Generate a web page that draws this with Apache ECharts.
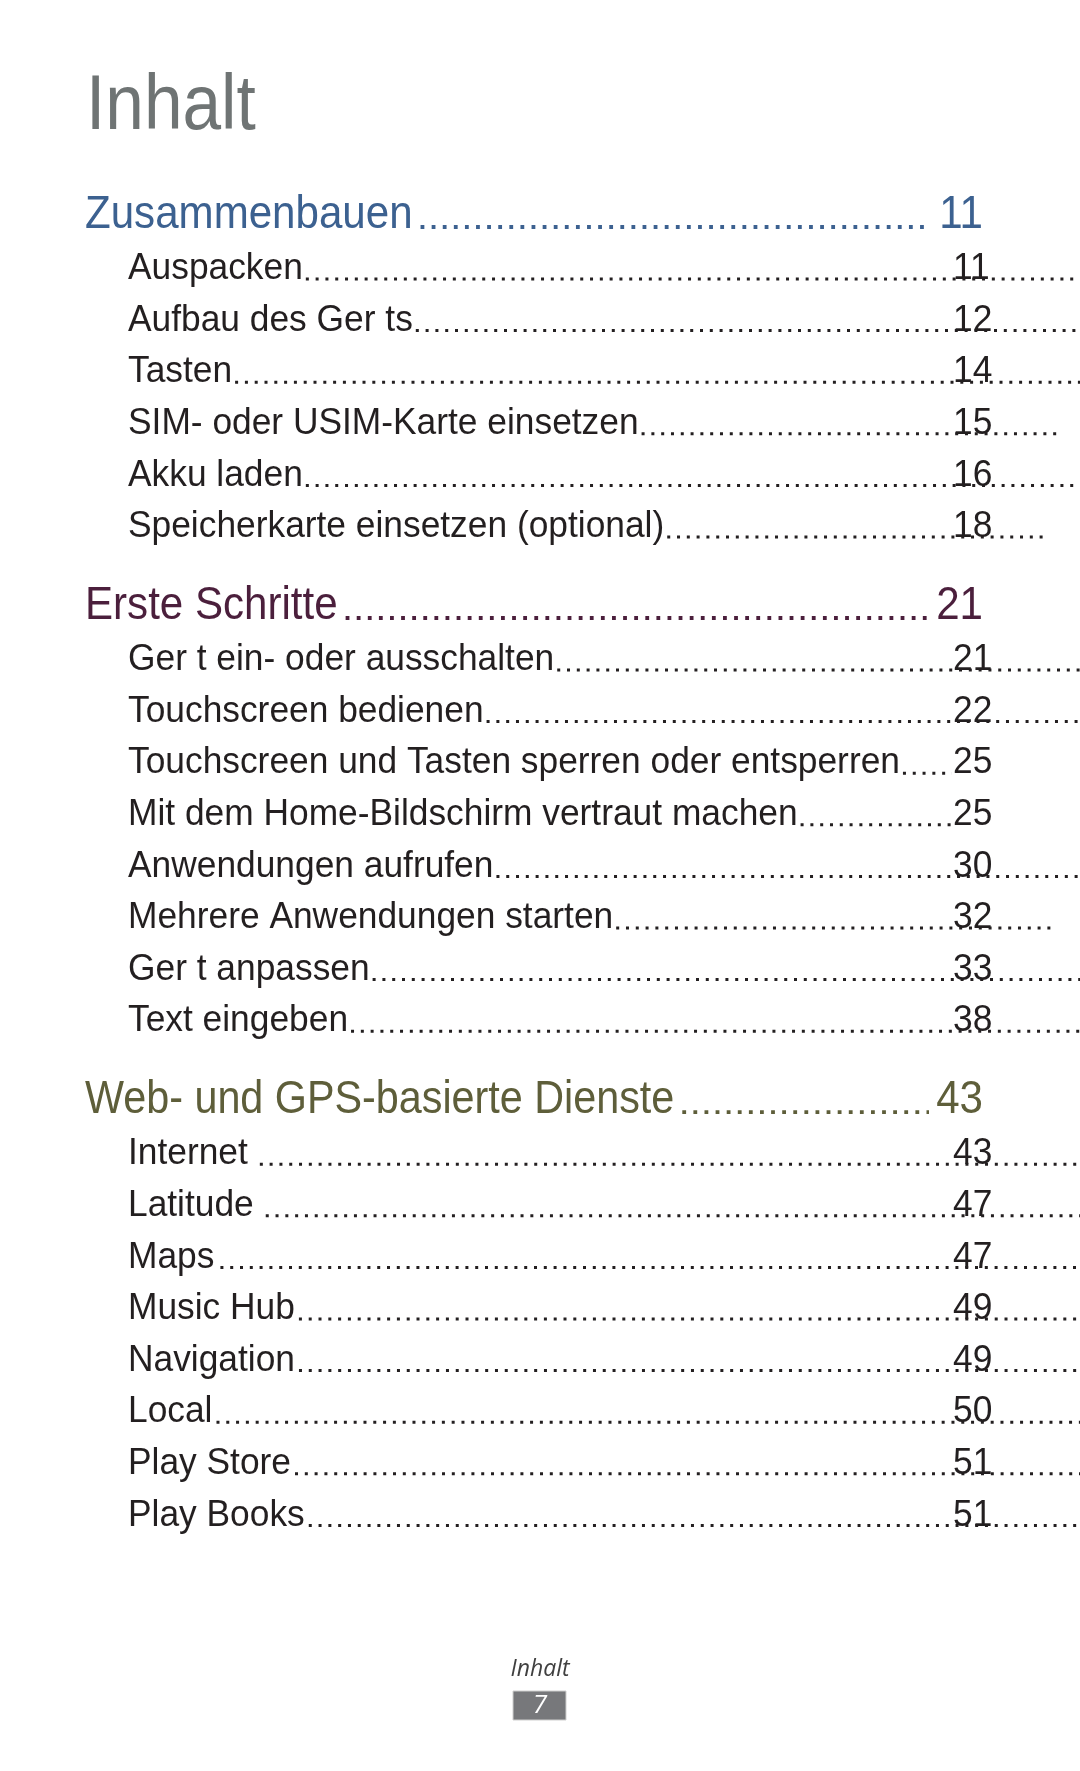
<!DOCTYPE html>
<html><head><meta charset="utf-8">
<script src="https://cdn.jsdelivr.net/npm/echarts@6/dist/echarts.min.js"></script>
<style>html,body{margin:0;padding:0;background:#fff}#c{width:1080px;height:1771px}</style>
</head><body><div id="c"></div>
<script>
// ---- content ----
const pageTitle = 'Inhalt';
const sectionTitles = ['Zusammenbauen', 'Erste Schritte', 'Web- und GPS-basierte Dienste'];
const sectionPages = [11, 21, 43];
const entries1 = ['Auspacken', 'Aufbau des Ger ts', 'Tasten', 'SIM- oder USIM-Karte einsetzen', 'Akku laden', 'Speicherkarte einsetzen (optional)'];
const pages1 = [11, 12, 14, 15, 16, 18];
const entries2 = ['Ger t ein- oder ausschalten', 'Touchscreen bedienen', 'Touchscreen und Tasten sperren oder entsperren', 'Mit dem Home-Bildschirm vertraut machen', 'Anwendungen aufrufen', 'Mehrere Anwendungen starten', 'Ger t anpassen', 'Text eingeben'];
const pages2 = [21, 22, 25, 25, 30, 32, 33, 38];
const entries3 = ['Internet', 'Latitude', 'Maps', 'Music Hub', 'Navigation', 'Local', 'Play Store', 'Play Books'];
const pages3 = [43, 47, 47, 49, 49, 50, 51, 51];
const footerLabel = 'Inhalt';
const footerPage = '7';

// ---- layout / style (not data) ----
const dotEnd1 = [1080, 1080, 1080, 1057, 1080, 1043];
const dotEnd2 = [1080, 1080, 952, 952, 1080, 1053, 1080, 1080];
const dotEnd3 = [1080, 1080, 1080, 1080, 1080, 1080, 1080, 1080];
const dotGap3 = [12, 12, 6, 4, 4, 4, 4, 4];
const sectionColors = ['#3c6190', '#4b1f3c', '#5e5e3a'];
const sectionScale = [0.915, 0.915, 0.898];
const FONT = '"Liberation Sans", Arial, sans-serif';

const cnv = document.createElement('canvas').getContext('2d');
function measure(t, size) { cnv.font = size + 'px ' + FONT; return cnv.measureText(t).width; }

const chart = echarts.init(document.getElementById('c'), null, {renderer: 'canvas'});
const g = [];
function txt(t, x, base, size, fill, sx, align, extra) {
  g.push(Object.assign({
    type: 'text', x: x, y: base - 0.31 * size, scaleX: sx, z: 10,
    style: {text: t, fontSize: size, fontFamily: FONT, fill: fill, align: align || 'left', verticalAlign: 'middle'}
  }, extra || {}));
}
function dots(x1, x2, y, color, w, dash) {
  if (x2 <= x1) return;
  g.push({type: 'line', z: 5, shape: {x1: x1, y1: y, x2: x2, y2: y},
    style: {stroke: color, lineWidth: w, lineDash: dash, lineCap: 'butt'}});
}

// title
txt(pageTitle, 86, 132, 78, '#6f7474', 0.89);

const SEC_SIZE = 46, SUB_SIZE = 37, SUB_SX = 0.955;
const groups = [[entries1, pages1, dotEnd1], [entries2, pages2, dotEnd2], [entries3, pages3, dotEnd3]];
let y = 229.5;
groups.forEach((grp, si) => {
  const col = sectionColors[si];
  const ssx = sectionScale[si];
  txt(sectionTitles[si], 85, y, SEC_SIZE, col, ssx);
  const tw = measure(sectionTitles[si], SEC_SIZE) * ssx;
  dots(85 + tw + 8, 929, y - 2.5, col, 3.8, [3.8, 7.3]);
  txt(String(sectionPages[si]), 983, y, SEC_SIZE, col, 0.915, 'right');
  y += 51;
  grp[0].forEach((e, i) => {
    txt(e, 128, y, SUB_SIZE, '#231f20', SUB_SX);
    const w = measure(e, SUB_SIZE) * SUB_SX;
    const gap = si === 2 ? dotGap3[i] : 3;
    dots(128 + w + gap, grp[2][i], y - 1.5, '#231f20', 3, [3, 6.8]);
    txt(String(grp[1][i]), 953, y, SUB_SIZE, '#231f20', SUB_SX);
    if (i < grp[0].length - 1) y += 51.6;
  });
  y += 82;
});

// footer
g.push({type: 'text', x: 540, y: 1669, z: 10,
  style: {text: footerLabel, fontSize: 23, fontFamily: '"Open Sans", sans-serif', fontStyle: 'italic', fill: '#404040', align: 'center', verticalAlign: 'middle'}});
g.push({type: 'rect', z: 8, shape: {x: 513, y: 1691, width: 53, height: 29},
  style: {fill: '#77787b', stroke: '#cfcfcf', lineWidth: 1}});
g.push({type: 'text', x: 540, y: 1706, z: 10,
  style: {text: footerPage, fontSize: 26, fontFamily: '"Open Sans", sans-serif', fontStyle: 'italic', fill: '#ffffff', align: 'center', verticalAlign: 'middle'}});

chart.setOption({animation: false, backgroundColor: '#ffffff', graphic: {elements: g}});
</script></body></html>
